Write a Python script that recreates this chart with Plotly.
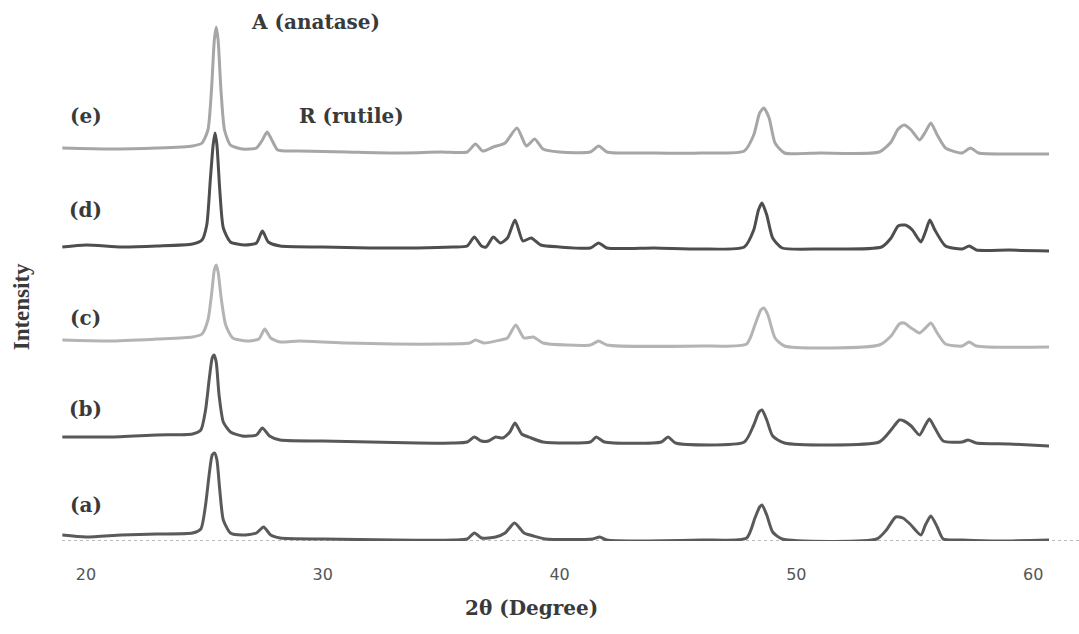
import plotly.graph_objects as go

# 2-theta (degree) and intensity (arbitrary units, stacked)
x_a = [19.0, 20.0, 21.5, 23.0, 24.5, 24.85, 25.05, 25.2, 25.33, 25.43, 25.53, 25.65, 25.8, 26.1, 26.6,
       27.2, 27.5, 27.8, 28.2, 30.0, 33.0, 35.5, 36.1, 36.4, 36.7, 37.3, 37.7, 38.1, 38.5, 38.9, 39.4,
       41.4, 41.7, 42.0, 46.0, 47.9, 48.25, 48.45, 48.55, 48.75, 49.0, 49.4, 53.4, 53.8, 54.2, 54.5,
       54.8, 55.26, 55.45, 55.68, 55.95, 56.2, 57.0, 58.5, 60.67]
y_a = [6, 4, 6, 7, 8, 12, 36, 66, 86, 88, 81, 51, 21, 8, 6,
       8, 14, 6, 3, 2, 1, 1, 2, 8, 3, 4, 8, 18, 8, 5, 2,
       2, 4, 1, 1, 3, 23, 34, 36, 26, 9, 2, 2, 11, 24, 23,
       17, 6, 16, 25, 14, 2, 1, 0, 1]

x_b = [19.0, 21.0, 23.0, 24.5, 24.85, 25.05, 25.2, 25.33, 25.41, 25.5, 25.62, 25.8, 26.1, 26.6, 27.2,
       27.45, 27.75, 28.2, 30.0, 32.0, 34.0, 35.5, 36.1, 36.4, 36.7, 37.0, 37.3, 37.6, 37.9, 38.12,
       38.4, 38.8, 39.3, 41.3, 41.55, 41.9, 44.3, 44.58, 44.9, 47.8, 48.2, 48.42, 48.55, 48.75, 49.0,
       49.5, 53.5, 54.0, 54.35, 54.55, 54.85, 55.2, 55.45, 55.62, 55.85, 56.2, 57.0, 57.25, 57.6,
       59.0, 60.67]
y_b = [104, 104, 106, 107, 111, 131, 161, 183, 186, 179, 146, 119, 109, 105, 106,
       113, 105, 101, 100, 99, 98, 98, 99, 104, 100, 100, 104, 103, 109, 118,
       107, 103, 99, 99, 104, 99, 99, 104, 98, 99, 116, 129, 131, 121, 105,
       98, 99, 111, 121, 120, 115, 106, 116, 122, 113, 100, 99, 101, 98,
       97, 95]

x_c = [19.0, 21.0, 23.0, 24.5, 24.9, 25.15, 25.3, 25.42, 25.5, 25.58, 25.72, 25.9, 26.2, 26.8, 27.3,
       27.55, 27.8, 28.2, 29.0, 31.0, 33.0, 35.0, 36.2, 36.45, 36.8, 37.5, 37.8, 38.15, 38.5, 38.9,
       39.3, 41.3, 41.65, 42.0, 46.0, 47.9, 48.25, 48.5, 48.63, 48.8, 49.1, 49.5, 53.5, 54.0, 54.35,
       54.55, 54.85, 55.2, 55.45, 55.68, 55.95, 56.3, 57.0, 57.3, 57.6, 60.67]
y_c = [201, 200, 202, 204, 207, 221, 246, 271, 276, 269, 241, 216, 203, 200, 202,
       212, 203, 199, 200, 198, 197, 197, 198, 201, 198, 201, 203, 216, 203, 204,
       198, 196, 200, 196, 195, 197, 216, 231, 233, 226, 203, 195, 196, 205, 217,
       218, 213, 208, 213, 218, 208, 197, 195, 199, 195, 194]

x_d = [19.0, 20.0, 21.5, 23.0, 24.5, 24.9, 25.1, 25.25, 25.37, 25.45, 25.53, 25.65, 25.8, 26.1, 26.7,
       27.2, 27.45, 27.7, 28.2, 30.0, 32.0, 34.0, 35.5, 36.1, 36.4, 36.7, 36.9, 37.2, 37.5, 37.8,
       38.12, 38.45, 38.8, 39.2, 40.0, 41.3, 41.65, 42.0, 44.0, 46.0, 47.8, 48.2, 48.4, 48.55, 48.75,
       49.0, 49.4, 51.0, 53.6, 54.0, 54.3, 54.6, 54.9, 55.26, 55.45, 55.64, 55.85, 56.3, 57.0, 57.3,
       57.6, 59.0, 60.67]
y_d = [294, 296, 294, 295, 297, 301, 316, 361, 396, 408, 396, 351, 313, 299, 296,
       298, 310, 299, 295, 294, 293, 293, 294, 295, 304, 295, 294, 304, 298, 303,
       321, 300, 303, 296, 294, 293, 298, 293, 293, 292, 294, 311, 331, 338, 326,
       303, 293, 292, 294, 303, 315, 316, 311, 299, 309, 321, 311, 295, 292, 295,
       291, 291, 290]

x_e = [19.0, 21.0, 23.0, 24.5, 24.9, 25.15, 25.3, 25.42, 25.5, 25.58, 25.7, 25.85, 26.1, 26.6, 27.2,
       27.45, 27.65, 27.85, 28.1, 29.0, 31.0, 33.0, 35.0, 36.1, 36.45, 36.75, 37.2, 37.7, 38.2, 38.6,
       38.95, 39.3, 40.0, 41.3, 41.65, 42.0, 44.0, 46.0, 47.8, 48.2, 48.45, 48.63, 48.85, 49.1, 49.5,
       51.0, 53.5, 54.0, 54.3, 54.55, 54.85, 55.2, 55.45, 55.68, 55.95, 56.3, 57.0, 57.35, 57.7,
       59.0, 60.67]
y_e = [393, 392, 393, 395, 398, 411, 451, 501, 514, 501, 451, 411, 396, 392, 393,
       401, 409, 401, 391, 390, 389, 388, 389, 389, 397, 390, 394, 398, 413, 395,
       402, 392, 389, 389, 395, 389, 388, 388, 390, 406, 428, 433, 423, 398, 388,
       388, 389, 399, 412, 416, 411, 401, 409, 418, 406, 393, 388, 393, 388,
       387, 387]

series_names = ["(a)", "(b)", "(c)", "(d)", "(e)"]
series_x = [x_a, x_b, x_c, x_d, x_e]
series_y = [y_a, y_b, y_c, y_d, y_e]
series_colors = ["#5a5a5a", "#585858", "#b4b4b4", "#4e4e4e", "#a6a6a6"]

tick_vals = [20, 30, 40, 50, 60]
tick_text = ["20", "30", "40", "50", "60"]

fig = go.Figure()
for name, xs, ys, col in zip(series_names, series_x, series_y, series_colors):
    fig.add_trace(go.Scatter(x=xs, y=ys, mode="lines", name=name,
                             line=dict(color=col, width=3, shape="spline", smoothing=0.6),
                             showlegend=False))

label_font = dict(family="DejaVu Serif", size=20, color="#3a3a3a")

# sample labels, placed to the left of each pattern
label_y = [36, 132, 223, 331, 425]
for name, ly in zip(series_names, label_y):
    fig.add_annotation(x=20.0, y=ly, text="<b>%s</b>" % name, showarrow=False,
                       xanchor="center", yanchor="middle", font=label_font)

fig.add_annotation(x=29.71, y=519, text="<b>A (anatase)</b>", showarrow=False,
                   xanchor="center", yanchor="middle", font=label_font)
fig.add_annotation(x=31.23, y=425, text="<b>R (rutile)</b>", showarrow=False,
                   xanchor="center", yanchor="middle", font=label_font)

fig.add_annotation(xref="paper", yref="paper", x=-0.0403, y=0.432, text="<b>Intensity</b>",
                   textangle=-90, showarrow=False, xanchor="center", yanchor="middle",
                   font=dict(family="Liberation Serif", size=23, color="#3a3a3a"))
fig.add_annotation(xref="paper", yref="paper", x=0.462, y=-0.124, text="<b>2θ (Degree)</b>",
                   showarrow=False, xanchor="center", yanchor="middle", font=label_font)

# dotted baseline axis
fig.add_shape(type="line", xref="paper", yref="y", x0=0, x1=1, y0=0, y1=0,
              line=dict(color="#777777", width=1, dash="dot"), layer="below")

fig.update_xaxes(range=[18.987, 61.937], tickvals=tick_vals, ticktext=tick_text,
                 showgrid=False, zeroline=False, showline=False,
                 ticks="outside", ticklen=19, tickcolor="rgba(0,0,0,0)",
                 tickfont=dict(family="DejaVu Sans", size=16, color="#555555"))
fig.update_yaxes(range=[0, 541], showgrid=False, zeroline=False, showline=False,
                 showticklabels=False, ticks="")

fig.update_layout(width=1079, height=634, margin=dict(l=62, r=0, t=0, b=93),
                  paper_bgcolor="white", plot_bgcolor="white")

fig.write_html("out.html")
